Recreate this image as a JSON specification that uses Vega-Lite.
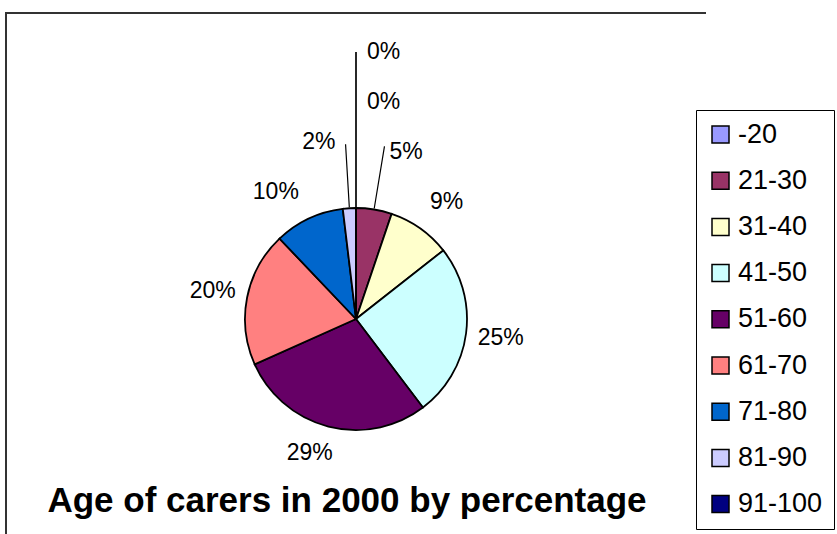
{
  "$schema": "https://vega.github.io/schema/vega-lite/v6.json",
  "width": 700,
  "height": 612,
  "autosize": {"type": "none"},
  "padding": {"left": 6, "top": 13, "right": 131, "bottom": -91},
  "background": "white",
  "view": {"stroke": "#333333", "strokeWidth": 2, "strokeDash": [700, 612, 1312, 1]},
  "title": {
    "text": "Age of carers in 2000 by percentage",
    "orient": "top",
    "anchor": "middle",
    "frame": "group",
    "font": "Liberation Sans",
    "fontSize": 35,
    "fontWeight": "bold",
    "color": "black",
    "baseline": "alphabetic",
    "offset": 0,
    "dx": -9,
    "dy": 534
  },
  "data": {
    "values": [
      {"age": "-20", "share": 0},
      {"age": "21-30", "share": 0.052},
      {"age": "31-40", "share": 0.092},
      {"age": "41-50", "share": 0.253},
      {"age": "51-60", "share": 0.286},
      {"age": "61-70", "share": 0.196},
      {"age": "71-80", "share": 0.102},
      {"age": "81-90", "share": 0.019},
      {"age": "91-100", "share": 0}
    ]
  },
  "encoding": {
    "theta": {"field": "share", "type": "quantitative", "stack": true},
    "order": {"field": "age", "sort": "ascending"}
  },
  "layer": [
    {
      "mark": {"type": "arc", "outerRadius": 111, "stroke": "black", "strokeWidth": 1.8},
      "encoding": {
        "color": {
          "field": "age",
          "type": "nominal",
          "scale": {
            "domain": ["-20", "21-30", "31-40", "41-50", "51-60", "61-70", "71-80", "81-90", "91-100"],
            "range": ["#9999FF", "#993366", "#FFFFCC", "#CCFFFF", "#660066", "#FF8080", "#0066CC", "#CCCCFF", "#000080"]
          },
          "legend": {
            "orient": "none",
            "legendX": 690,
            "legendY": 97,
            "title": null,
            "symbolType": "square",
            "symbolSize": 289,
            "symbolStrokeColor": "black",
            "symbolStrokeWidth": 1.5,
            "labelFont": "Liberation Sans",
            "labelFontSize": 27,
            "labelColor": "black",
            "labelOffset": 4,
            "labelLimit": 0,
            "rowPadding": 18.2,
            "padding": 11,
            "strokeColor": "black",
            "fillColor": "white"
          }
        }
      }
    },
    {
      "mark": {"type": "arc", "outerRadius": 267, "innerRadius": 112, "padAngle": 0.6, "fillOpacity": 0, "stroke": "black", "strokeWidth": 1.2},
      "encoding": {
        "strokeOpacity": {"condition": {"test": "datum.share == 0", "value": 1}, "value": 0}
      }
    },
    {
      "mark": {"type": "arc", "outerRadius": 175, "innerRadius": 112, "padAngle": 0.6, "fillOpacity": 0, "stroke": "black", "strokeWidth": 1.2},
      "encoding": {
        "strokeOpacity": {"condition": {"test": "datum.age == '21-30' || datum.age == '81-90'", "value": 1}, "value": 0}
      }
    },
    {
      "mark": {"type": "text", "radius": 146, "font": "Liberation Sans", "fontSize": 23, "fill": "black"},
      "encoding": {
        "text": {"condition": {"test": "datum.age == '41-50' || datum.age == '61-70'", "field": "share", "type": "quantitative", "format": ".0%"}, "value": ""}
      }
    },
    {
      "mark": {"type": "text", "radius": 150, "dx": 4, "dy": 5, "font": "Liberation Sans", "fontSize": 23, "fill": "black"},
      "encoding": {
        "text": {"condition": {"test": "datum.age == '31-40'", "field": "share", "type": "quantitative", "format": ".0%"}, "value": ""}
      }
    },
    {
      "mark": {"type": "text", "radius": 146, "dx": -10, "dy": -7, "font": "Liberation Sans", "fontSize": 23, "fill": "black"},
      "encoding": {
        "text": {"condition": {"test": "datum.age == '51-60'", "field": "share", "type": "quantitative", "format": ".0%"}, "value": ""}
      }
    },
    {
      "mark": {"type": "text", "radius": 146, "dx": -18, "dy": 5, "font": "Liberation Sans", "fontSize": 23, "fill": "black"},
      "encoding": {
        "text": {"condition": {"test": "datum.age == '71-80'", "field": "share", "type": "quantitative", "format": ".0%"}, "value": ""}
      }
    },
    {
      "mark": {"type": "text", "radius": 175, "align": "left", "dx": 5, "dy": 6, "font": "Liberation Sans", "fontSize": 23, "fill": "black"},
      "encoding": {
        "text": {"condition": {"test": "datum.age == '21-30'", "field": "share", "type": "quantitative", "format": ".0%"}, "value": ""}
      }
    },
    {
      "mark": {"type": "text", "radius": 177, "align": "right", "dx": -10, "dy": 0, "font": "Liberation Sans", "fontSize": 23, "fill": "black"},
      "encoding": {
        "text": {"condition": {"test": "datum.age == '81-90'", "field": "share", "type": "quantitative", "format": ".0%"}, "value": ""}
      }
    },
    {
      "mark": {"type": "text", "radius": 267, "align": "left", "dx": 11, "font": "Liberation Sans", "fontSize": 23, "fill": "black"},
      "encoding": {
        "text": {"condition": {"test": "datum.age == '-20'", "field": "share", "type": "quantitative", "format": ".0%"}, "value": ""}
      }
    },
    {
      "mark": {"type": "text", "radius": 217, "align": "left", "dx": 11, "font": "Liberation Sans", "fontSize": 23, "fill": "black"},
      "encoding": {
        "text": {"condition": {"test": "datum.age == '91-100'", "field": "share", "type": "quantitative", "format": ".0%"}, "value": ""}
      }
    }
  ],
  "config": {
    "font": "Liberation Sans"
  }
}
